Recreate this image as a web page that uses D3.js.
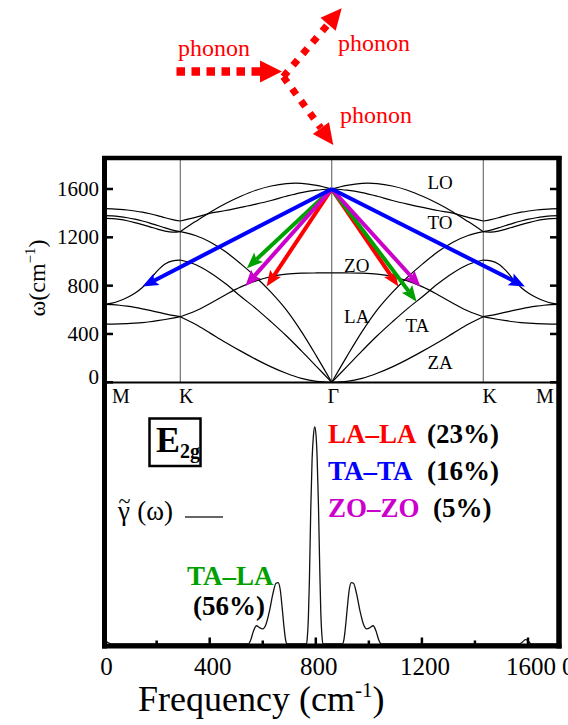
<!DOCTYPE html>
<html lang="en">
<head>
<meta charset="UTF-8">
<title>E2g phonon decay</title>
<script src="https://d3js.org/d3.v7.min.js"></script>
<style>
  body { margin: 0; background: #fff; }
  svg { display: block; }
  text { font-family: "Liberation Serif", "Times New Roman", Times, "DejaVu Serif", serif; }
</style>
</head>
<body>
<script>
var width = 568, height = 725;

// high symmetry path M-K-G (right half is the mirror G-K-M)
var symLabels = ["M", "K", "Γ", "K", "M"];
var symPos = [0, 1, 3, 5, 6];

var tMK = [0, 0.1, 0.2, 0.3, 0.4, 0.5, 0.6, 0.7, 0.8, 0.9, 1.0];
var tKG = [1.0, 1.2, 1.4, 1.6, 1.8, 2.0, 2.2, 2.4, 2.6, 2.8, 3.0];

var zaMK = [482, 482, 483, 485, 489, 494, 501, 510, 520, 531, 543];
var taMK = [645, 655, 675, 702, 737, 785, 850, 925, 980, 1005, 1012];
var zoMK = [645, 643, 638, 630, 620, 608, 595, 581, 567, 554, 543];
var laMK = [1357, 1355, 1348, 1337, 1322, 1305, 1287, 1268, 1252, 1243, 1247];
var loMK = [1379, 1377, 1371, 1362, 1350, 1335, 1318, 1298, 1278, 1260, 1247];
var toMK = [1437, 1436, 1432, 1426, 1418, 1408, 1395, 1380, 1362, 1347, 1335];

var zaKG = [543, 480, 405, 330, 258, 190, 128, 75, 33, 8, 0];
var taKG = [1012, 975, 905, 815, 710, 610, 500, 385, 260, 130, 0];
var laKG = [1247, 1215, 1160, 1080, 980, 870, 745, 600, 420, 215, 0];
var zoKG = [543, 590, 655, 725, 790, 840, 875, 895, 903, 905, 905];
var loKG = [1247, 1330, 1410, 1480, 1540, 1590, 1625, 1645, 1647, 1630, 1600];
var toKG = [1335, 1365, 1400, 1422, 1448, 1475, 1505, 1540, 1570, 1590, 1600];

var branchNames = ["LO", "TO", "ZO", "LA", "TA", "ZA"];
var branchLabelT = [4.43, 4.43, 3.33, 3.33, 4.13, 4.43];
var branchLabelW = [1658, 1327, 971, 549, 475, 168];

var wTicks = [0, 400, 800, 1200, 1600];

// decay channels: arrows from Gamma (1600 cm-1)
var decayColors = ["#ff0000", "#00a000", "#cc00cc", "#0000ff"];
var tipLeftT = [2.14, 1.88, 1.86, 0.5];
var tipLeftW = [792, 944, 797, 792];
var tipRightT = [3.88, 4.12, 4.17, 5.55];
var tipRightW = [792, 667, 792, 792];

var channelNames = ["LA–LA", "TA–TA", "ZO–ZO"];
var channelShares = ["(23%)", "(16%)", "(5%)"];
var channelColors = ["#ff0000", "#0000ff", "#cc00cc"];

// gamma(omega) spectrum
var gFreq = [0, 12, 22, 32, 545, 555, 565, 576, 588, 600, 612, 625, 638, 650, 658, 666, 673, 680, 686, 692,
             765, 768, 772, 776, 781, 786, 791, 796, 801, 805, 810, 815, 819, 823, 827,
             900, 906, 912, 919, 926, 934, 942, 954, 967, 980, 992, 1004, 1016, 1027, 1037, 1047,
             1565, 1578, 1590, 1600, 1608, 1615, 1717];
var gVal = [1.6, 1.0, 0.3, 0, 0, 2, 6, 8.4, 7.5, 7, 9, 15, 23, 28, 28.3, 25, 17, 8, 2, 0,
            0, 3, 12, 30, 62, 85, 96, 100, 96, 86, 64, 34, 14, 4, 0,
            0, 2, 8, 17, 25, 28.3, 28, 23, 15, 9, 7, 7.5, 8.4, 6, 2, 0,
            0, 0.8, 2, 1.6, 0.3, 0, 0];

var fMajor = [0, 400, 800, 1200, 1600];
var fMinor = [200, 600, 1000, 1400];

var svg = d3.select("body").append("svg")
    .attr("width", width)
    .attr("height", height)
    .attr("font-family", "Liberation Serif, Times New Roman, serif");

var x = d3.scaleLinear().domain([0, 6]).range([104.5, 559]);
var y = d3.scaleLinear().domain([0, 1600]).range([382.3, 189]);
var fx = d3.scaleLinear().domain([0, 1600]).range([103.6, 528]);
var gy = d3.scaleLinear().domain([0, 100]).range([644, 427]);

// ---- phonon sketch on top
var red = "#ff0000";
function dottedArrow(x0, y0, x1, y1, hl, hw, sw, dash) {
  var dx = x1 - x0, dy = y1 - y0, len = Math.sqrt(dx * dx + dy * dy);
  var ux = dx / len, uy = dy / len;
  var bx = x1 - ux * hl, by = y1 - uy * hl;
  svg.append("line")
      .attr("x1", x0).attr("y1", y0).attr("x2", bx).attr("y2", by)
      .attr("stroke", red).attr("stroke-width", sw)
      .attr("stroke-dasharray", dash);
  svg.append("path")
      .attr("d", "M" + x1 + "," + y1 + "L" + (bx - uy * hw) + "," + (by + ux * hw) +
                 "L" + (bx + uy * hw) + "," + (by - ux * hw) + "Z")
      .attr("fill", red);
}
dottedArrow(176.5, 71.5, 282, 71.5, 22, 11, 8.5, "8.5,6.5");
dottedArrow(283.3, 76.7, 341.7, 8.3, 21, 10, 7, "7,8");
dottedArrow(283.3, 76.7, 333.3, 145, 21, 10, 7, "7,8");

svg.selectAll("text.ph")
    .data([[178, 56], [338, 51], [340, 123]])
    .enter().append("text")
    .attr("class", "ph")
    .attr("x", function(d) { return d[0]; })
    .attr("y", function(d) { return d[1]; })
    .attr("fill", red)
    .attr("font-size", 24)
    .text("phonon");

// ---- dispersion panel
svg.selectAll("line.sym")
    .data(symPos.slice(1, 4))
    .enter().append("line")
    .attr("class", "sym")
    .attr("x1", function(d) { return x(d); }).attr("x2", function(d) { return x(d); })
    .attr("y1", 158).attr("y2", 382)
    .attr("stroke", "#555").attr("stroke-width", 1);

var branchesMK = [zaMK, taMK, zoMK, laMK, loMK, toMK];
var branchesKG = [zaKG, taKG, zoKG, laKG, loKG, toKG];

var lineL = d3.line()
    .x(function(d) { return x(d[0]); })
    .y(function(d) { return y(d[1]); })
    .curve(d3.curveCatmullRom.alpha(0.5));
var lineR = d3.line()
    .x(function(d) { return x(6 - d[0]); })
    .y(function(d) { return y(d[1]); })
    .curve(d3.curveCatmullRom.alpha(0.5));

var disp = svg.append("g")
    .attr("fill", "none").attr("stroke", "#000").attr("stroke-width", 1.2);
branchesMK.forEach(function(b, j) {
  var mk = tMK.map(function(t, i) { return [t, b[i]]; });
  var kg = tKG.map(function(t, i) { return [t, branchesKG[j][i]]; });
  [mk, kg].forEach(function(pts) {
    disp.append("path").attr("d", lineL(pts));
    disp.append("path").attr("d", lineR(pts));
  });
});

function arrow(x0, y0, x1, y1, color) {
  var dx = x1 - x0, dy = y1 - y0, len = Math.sqrt(dx * dx + dy * dy);
  var ux = dx / len, uy = dy / len, hl = 16, hw = 6.5;
  var bx = x1 - ux * hl, by = y1 - uy * hl;
  var nx = x1 - ux * (hl - 3), ny = y1 - uy * (hl - 3);
  svg.append("line")
      .attr("x1", x0).attr("y1", y0).attr("x2", nx).attr("y2", ny)
      .attr("stroke", color).attr("stroke-width", 4);
  svg.append("path")
      .attr("d", "M" + x1 + "," + y1 + "L" + (bx - uy * hw) + "," + (by + ux * hw) +
                 "L" + nx + "," + ny +
                 "L" + (bx + uy * hw) + "," + (by - ux * hw) + "Z")
      .attr("fill", color);
}
decayColors.forEach(function(c, i) {
  arrow(x(3), y(1600), x(tipLeftT[i]), y(tipLeftW[i]), c);
  arrow(x(3), y(1600), x(tipRightT[i]), y(tipRightW[i]), c);
});

svg.selectAll("text.branch")
    .data(branchNames)
    .enter().append("text")
    .attr("class", "branch")
    .attr("x", function(d, i) { return x(branchLabelT[i]); })
    .attr("y", function(d, i) { return y(branchLabelW[i]); })
    .attr("dy", "0.35em")
    .attr("text-anchor", "middle")
    .attr("font-size", 19)
    .text(function(d) { return d; });

// y ticks (left and right inside)
var ticks = svg.append("g").attr("stroke", "#000").attr("stroke-width", 2.5);
wTicks.forEach(function(w) {
  ticks.append("line").attr("x1", 106).attr("x2", 113).attr("y1", y(w)).attr("y2", y(w));
  ticks.append("line").attr("x1", 550).attr("x2", 557).attr("y1", y(w)).attr("y2", y(w));
});
svg.selectAll("text.wt")
    .data(wTicks)
    .enter().append("text")
    .attr("class", "wt")
    .attr("x", 99)
    .attr("y", function(d) { return y(d) + (d === 0 ? 2 : 7); })
    .attr("text-anchor", "end")
    .attr("font-size", 21)
    .text(function(d) { return d; });

var symOffset = [16.5, 6, 1.5, 6.5, -14];
svg.selectAll("text.symlab")
    .data(symLabels)
    .enter().append("text")
    .attr("class", "symlab")
    .attr("x", function(d, i) { return x(symPos[i]) + symOffset[i]; })
    .attr("y", 403)
    .attr("text-anchor", "middle")
    .attr("font-size", 20)
    .text(function(d) { return d; });

var ylab = svg.append("text")
    .attr("transform", "translate(45,278) rotate(-90)")
    .attr("text-anchor", "middle")
    .attr("font-size", 24);
ylab.append("tspan").text("ω(cm");
ylab.append("tspan").attr("font-size", 15).attr("dy", -10).text("−1");
ylab.append("tspan").attr("dy", 10).text(")");

// ---- spectrum panel
svg.append("clipPath").attr("id", "clipB")
  .append("rect").attr("x", 106).attr("y", 384).attr("width", 451).attr("height", 262);

var gLine = d3.line()
    .x(function(d, i) { return fx(gFreq[i]); })
    .y(function(d) { return gy(d); })
    .curve(d3.curveMonotoneX);
svg.append("path")
    .attr("d", gLine(gVal))
    .attr("clip-path", "url(#clipB)")
    .attr("fill", "none").attr("stroke", "#111").attr("stroke-width", 1.3);

var fticks = svg.append("g").attr("stroke", "#000").attr("stroke-width", 2.5);
fMajor.forEach(function(f) {
  fticks.append("line").attr("x1", fx(f)).attr("x2", fx(f)).attr("y1", 646).attr("y2", 637.5);
});
fMinor.forEach(function(f) {
  fticks.append("line").attr("x1", fx(f)).attr("x2", fx(f)).attr("y1", 646).attr("y2", 640.5);
});
svg.selectAll("text.ft")
    .data(fMajor)
    .enter().append("text")
    .attr("class", "ft")
    .attr("x", function(d) { return fx(d) + 3; })
    .attr("y", 675)
    .attr("text-anchor", "middle")
    .attr("font-size", 25)
    .text(function(d) { return d; });
svg.append("text").attr("x", 562).attr("y", 675).attr("font-size", 25).text("0");

var xlab = svg.append("text")
    .attr("x", 138).attr("y", 711)
    .attr("font-size", 36);
xlab.append("tspan").text("Frequency (cm");
xlab.append("tspan").attr("font-size", 21).attr("dy", -14).text("-1");
xlab.append("tspan").attr("dy", 14).text(")");

// E2g box
svg.append("rect")
    .attr("x", 149.5).attr("y", 418.5).attr("width", 51).attr("height", 47.5)
    .attr("fill", "none").attr("stroke", "#000").attr("stroke-width", 2.5);
var e2g = svg.append("text").attr("x", 156).attr("y", 452).attr("font-weight", "bold").attr("font-size", 36);
e2g.append("tspan").text("E");
e2g.append("tspan").attr("font-size", 20).attr("dy", 6).text("2g");

// channel labels
channelNames.forEach(function(n, i) {
  svg.append("text")
      .attr("x", 328).attr("y", 443 + i * 37)
      .attr("font-weight", "bold").attr("font-size", 27)
      .attr("fill", channelColors[i])
      .text(n);
  svg.append("text")
      .attr("x", i === 2 ? 433 : 427).attr("y", 443 + i * 37)
      .attr("font-weight", "bold").attr("font-size", 27)
      .text(channelShares[i]);
});
svg.append("text")
    .attr("x", 187).attr("y", 585)
    .attr("font-weight", "bold").attr("font-size", 27)
    .attr("fill", "#00a000")
    .text("TA–LA");
svg.append("text")
    .attr("x", 193).attr("y", 615)
    .attr("font-weight", "bold").attr("font-size", 27)
    .text("(56%)");

// gamma legend: tilde shifted back over the gamma inside one text
var gl = svg.append("text").attr("x", 118).attr("y", 520).attr("font-size", 27);
gl.append("tspan").text("γ");
gl.append("tspan").attr("font-size", 22).attr("dx", -11.5).attr("dy", -12).text("~");
gl.append("tspan").attr("dx", 7).attr("dy", 12).text("(ω)");
svg.append("line")
    .attr("x1", 185).attr("x2", 223).attr("y1", 517).attr("y2", 517)
    .attr("stroke", "#333").attr("stroke-width", 1.5);

// frame
var frame = svg.append("g").attr("stroke", "#000");
frame.append("line").attr("x1", 102).attr("x2", 561.5).attr("y1", 158).attr("y2", 158).attr("stroke-width", 4.5);
frame.append("line").attr("x1", 104.5).attr("x2", 104.5).attr("y1", 156).attr("y2", 648.5).attr("stroke-width", 5);
frame.append("line").attr("x1", 559).attr("x2", 559).attr("y1", 156).attr("y2", 648.5).attr("stroke-width", 5.5);
frame.append("line").attr("x1", 102).attr("x2", 561.5).attr("y1", 646).attr("y2", 646).attr("stroke-width", 5);
frame.append("line").attr("x1", 104.5).attr("x2", 559).attr("y1", 382.5).attr("y2", 382.5).attr("stroke-width", 2);
</script>
</body>
</html>
